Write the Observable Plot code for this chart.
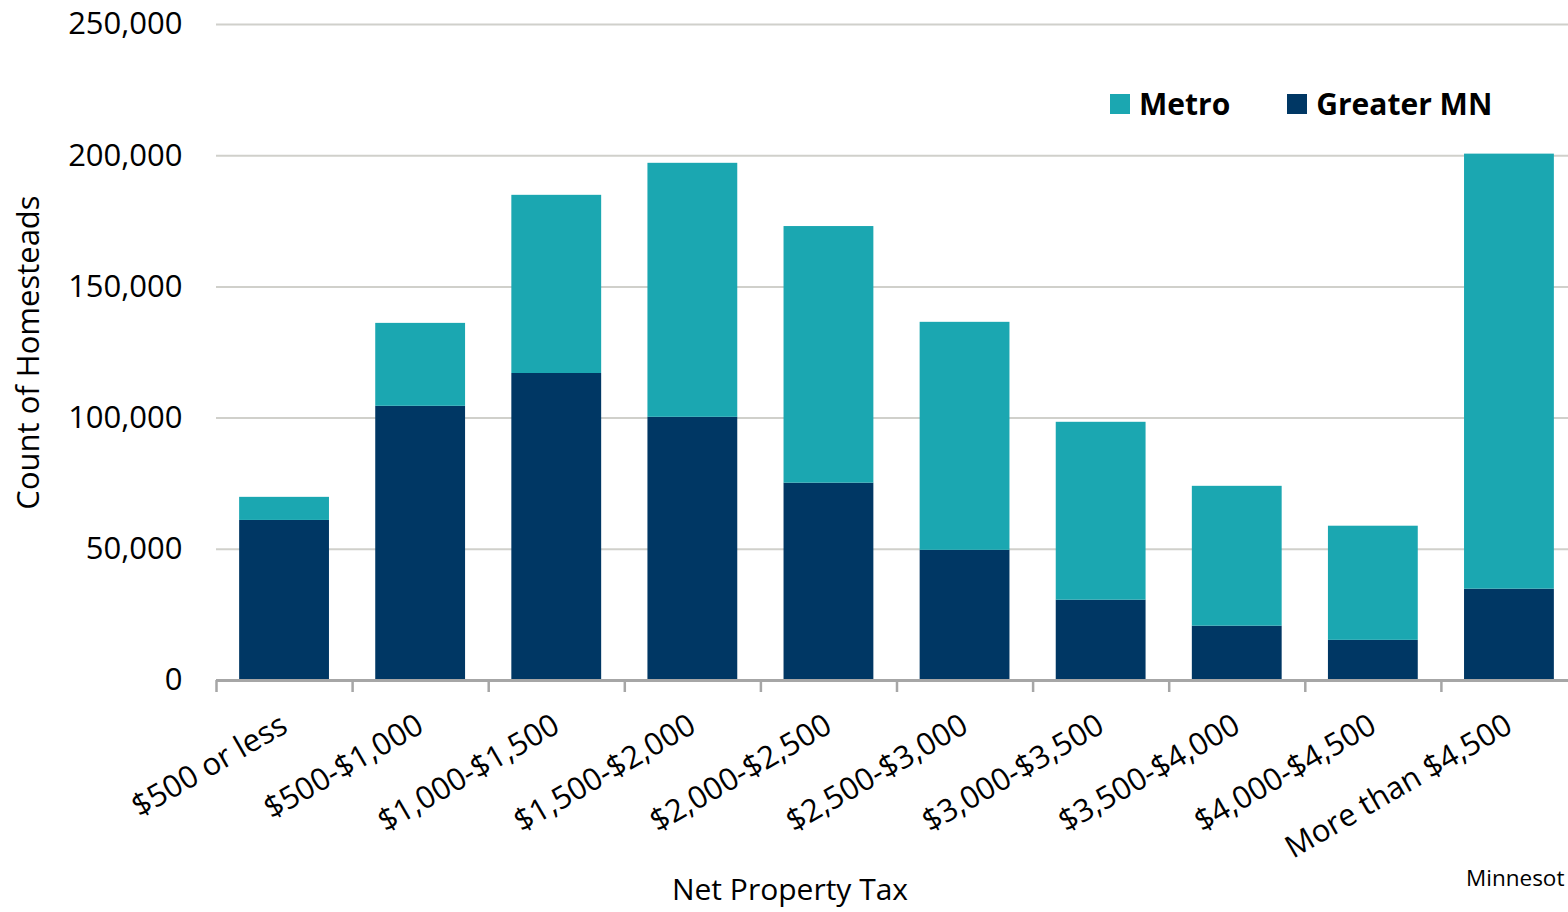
<!DOCTYPE html>
<html>
<head>
<meta charset="utf-8">
<script src="https://cdn.jsdelivr.net/npm/d3@7"></script>
<script src="https://cdn.jsdelivr.net/npm/@observablehq/plot@0.6"></script>
<style>
  html, body { margin: 0; padding: 0; background: #fff; overflow: hidden; width: 1568px; height: 912px; }
  #wrap { position: relative; width: 1568px; height: 912px; overflow: hidden; font-family: "Open Sans", sans-serif; }
  #chart svg { display: block; max-width: none !important; }
  .legend { position: absolute; top: 83px; left: 1110px; display: flex; align-items: center; font-weight: bold; font-size: 30px; color: #000; white-space: nowrap; }
  .legend .sw { display: inline-block; width: 20px; height: 20px; margin-right: 9px; }
  .legend .item { display: flex; align-items: center; margin-right: 57px; }
  .xlabel { position: absolute; left: 790px; top: 868px; transform: translateX(-50%); font-size: 30px; color: #000; white-space: nowrap; }
  .source { position: absolute; left: 1466px; top: 862px; font-size: 22.5px; color: #000; white-space: nowrap; }
</style>
</head>
<body>
<div id="wrap">
  <div id="chart"></div>
  <div class="legend" id="legend"></div>
  <div class="xlabel">Net Property Tax</div>
  <div class="source">Minnesot</div>
</div>
<script>
const categories = ["$500 or less","$500-$1,000","$1,000-$1,500","$1,500-$2,000","$2,000-$2,500","$2,500-$3,000","$3,000-$3,500","$3,500-$4,000","$4,000-$4,500","More than $4,500"];
const greaterMN = [61000,104500,117000,100300,75200,49600,30600,20700,15300,34800];
const metro = [8800,31600,67900,96800,97800,86900,67800,53300,43500,165800];
const seriesNames = ["Greater MN","Metro"];
const seriesColors = ["#003764","#1BA7B1"];
const yTicks = [0,50000,100000,150000,200000,250000];

const rows = [];
categories.forEach((c,i) => rows.push({category:c, series:"Greater MN", value:greaterMN[i]}));
categories.forEach((c,i) => rows.push({category:c, series:"Metro", value:metro[i]}));

const chart = Plot.plot({
  width: 1577,
  height: 912,
  marginTop: 24,
  marginBottom: 232,
  marginLeft: 216,
  marginRight: 0,
  style: {fontFamily: "'Open Sans', sans-serif", fontSize: "28px", color: "#000", background: "#fff", maxWidth: "none"},
  x: {domain: categories, paddingInner: 0.34, paddingOuter: 0.17, round: false, label: null},
  y: {domain: [0,250000], label: null},
  color: {domain: seriesNames, range: seriesColors},
  marks: [
    Plot.ruleY(yTicks.filter(d => d > 0), {stroke: "#D0D0CB", strokeWidth: 2}),
    Plot.barY(rows, {x: "category", y: "value", fill: "series"}),
    Plot.ruleY([0], {stroke: "#A6A6A6", strokeWidth: 3}),
    Plot.axisX({tickSize: 12, dx: -68.05, tickFormat: () => "", stroke: "#A6A6A6", strokeWidth: 2.5, label: null}),
    Plot.axisX({tickSize: 0, tickRotate: -30, tickPadding: 42, fontSize: 31, label: null}),
    Plot.axisY({ticks: yTicks, tickSize: 0, tickPadding: 34, tickFormat: d3.format(","), fontSize: 31,
      label: "Count of Homesteads", labelAnchor: "center", labelOffset: 200, labelArrow: "none"})
  ]
});
document.getElementById("chart").appendChild(chart);

const legend = document.getElementById("legend");
[["Metro","#1BA7B1"],["Greater MN","#003764"]].forEach(([name,col]) => {
  const item = document.createElement("div");
  item.className = "item";
  item.innerHTML = `<span class="sw" style="background:${col}"></span><span>${name}</span>`;
  legend.appendChild(item);
});
</script>
</body>
</html>
